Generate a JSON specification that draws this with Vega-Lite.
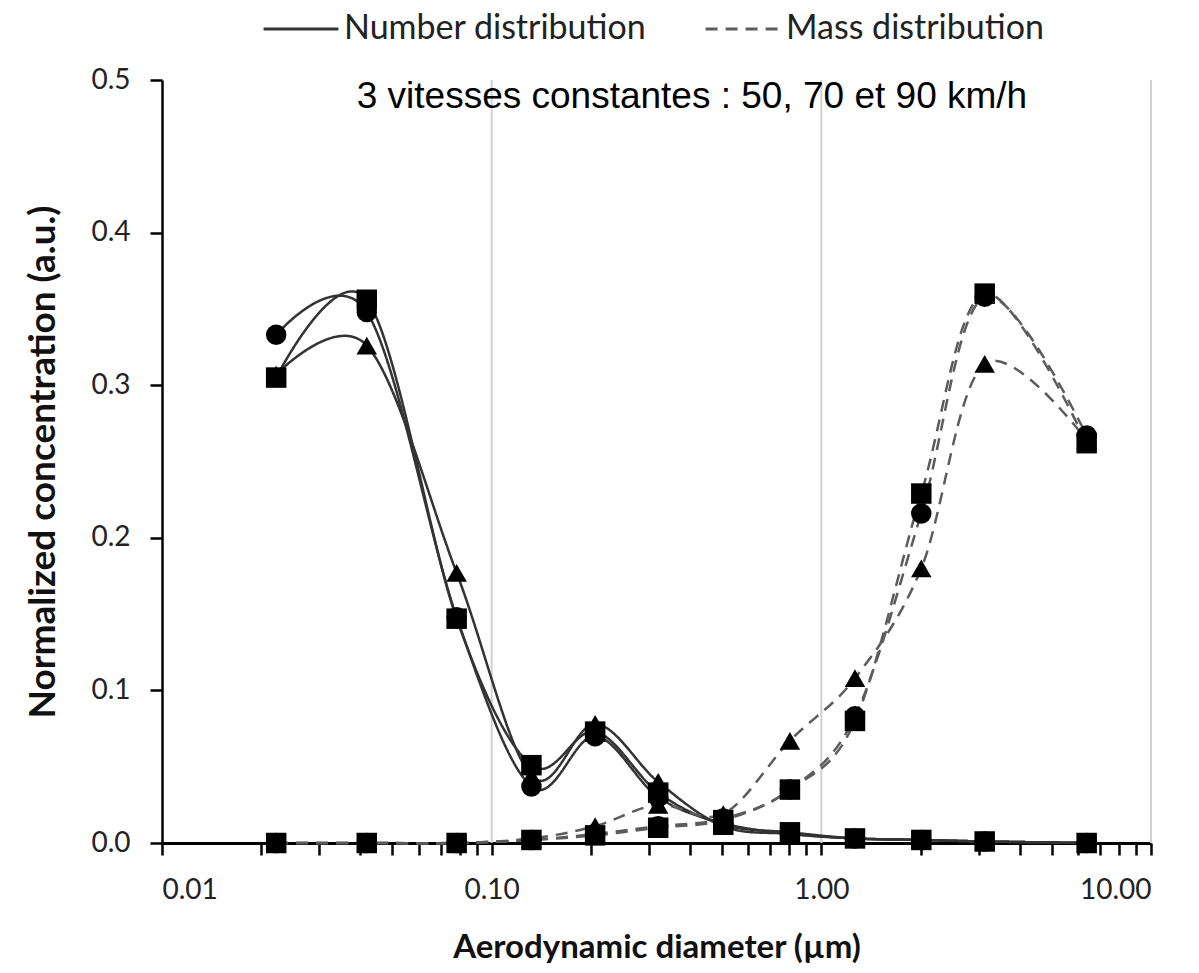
{
  "$schema": "https://vega.github.io/schema/vega-lite/v6.json",
  "width": 989,
  "height": 763,
  "autosize": "none",
  "padding": {"left": 162, "top": 80, "right": 48, "bottom": 130},
  "background": "white",
  "config": {
    "view": {"stroke": null},
    "font": "Lato"
  },
  "datasets": {
    "pts": [
      {"d": 0.0222, "v": 0.333, "dist": "Number distribution", "speed": "50"},
      {"d": 0.0418, "v": 0.348, "dist": "Number distribution", "speed": "50"},
      {"d": 0.0783, "v": 0.148, "dist": "Number distribution", "speed": "50"},
      {"d": 0.132, "v": 0.037, "dist": "Number distribution", "speed": "50"},
      {"d": 0.206, "v": 0.070, "dist": "Number distribution", "speed": "50"},
      {"d": 0.320, "v": 0.030, "dist": "Number distribution", "speed": "50"},
      {"d": 0.504, "v": 0.013, "dist": "Number distribution", "speed": "50"},
      {"d": 0.803, "v": 0.006, "dist": "Number distribution", "speed": "50"},
      {"d": 1.265, "v": 0.003, "dist": "Number distribution", "speed": "50"},
      {"d": 2.01, "v": 0.002, "dist": "Number distribution", "speed": "50"},
      {"d": 3.13, "v": 0.001, "dist": "Number distribution", "speed": "50"},
      {"d": 6.38, "v": 0.000, "dist": "Number distribution", "speed": "50"},

      {"d": 0.0222, "v": 0.307, "dist": "Number distribution", "speed": "70"},
      {"d": 0.0418, "v": 0.326, "dist": "Number distribution", "speed": "70"},
      {"d": 0.0783, "v": 0.177, "dist": "Number distribution", "speed": "70"},
      {"d": 0.132, "v": 0.044, "dist": "Number distribution", "speed": "70"},
      {"d": 0.206, "v": 0.078, "dist": "Number distribution", "speed": "70"},
      {"d": 0.320, "v": 0.040, "dist": "Number distribution", "speed": "70"},
      {"d": 0.504, "v": 0.011, "dist": "Number distribution", "speed": "70"},
      {"d": 0.803, "v": 0.006, "dist": "Number distribution", "speed": "70"},
      {"d": 1.265, "v": 0.003, "dist": "Number distribution", "speed": "70"},
      {"d": 2.01, "v": 0.002, "dist": "Number distribution", "speed": "70"},
      {"d": 3.13, "v": 0.001, "dist": "Number distribution", "speed": "70"},
      {"d": 6.38, "v": 0.000, "dist": "Number distribution", "speed": "70"},

      {"d": 0.0222, "v": 0.305, "dist": "Number distribution", "speed": "90"},
      {"d": 0.0418, "v": 0.356, "dist": "Number distribution", "speed": "90"},
      {"d": 0.0783, "v": 0.147, "dist": "Number distribution", "speed": "90"},
      {"d": 0.132, "v": 0.051, "dist": "Number distribution", "speed": "90"},
      {"d": 0.206, "v": 0.073, "dist": "Number distribution", "speed": "90"},
      {"d": 0.320, "v": 0.033, "dist": "Number distribution", "speed": "90"},
      {"d": 0.504, "v": 0.012, "dist": "Number distribution", "speed": "90"},
      {"d": 0.803, "v": 0.007, "dist": "Number distribution", "speed": "90"},
      {"d": 1.265, "v": 0.003, "dist": "Number distribution", "speed": "90"},
      {"d": 2.01, "v": 0.002, "dist": "Number distribution", "speed": "90"},
      {"d": 3.13, "v": 0.001, "dist": "Number distribution", "speed": "90"},
      {"d": 6.38, "v": 0.000, "dist": "Number distribution", "speed": "90"},

      {"d": 0.0222, "v": 0.000, "dist": "Mass distribution", "speed": "50"},
      {"d": 0.0418, "v": 0.000, "dist": "Mass distribution", "speed": "50"},
      {"d": 0.0783, "v": 0.000, "dist": "Mass distribution", "speed": "50"},
      {"d": 0.132, "v": 0.002, "dist": "Mass distribution", "speed": "50"},
      {"d": 0.206, "v": 0.006, "dist": "Mass distribution", "speed": "50"},
      {"d": 0.320, "v": 0.011, "dist": "Mass distribution", "speed": "50"},
      {"d": 0.504, "v": 0.016, "dist": "Mass distribution", "speed": "50"},
      {"d": 0.803, "v": 0.035, "dist": "Mass distribution", "speed": "50"},
      {"d": 1.265, "v": 0.083, "dist": "Mass distribution", "speed": "50"},
      {"d": 2.01, "v": 0.216, "dist": "Mass distribution", "speed": "50"},
      {"d": 3.13, "v": 0.358, "dist": "Mass distribution", "speed": "50"},
      {"d": 6.38, "v": 0.267, "dist": "Mass distribution", "speed": "50"},

      {"d": 0.0222, "v": 0.000, "dist": "Mass distribution", "speed": "70"},
      {"d": 0.0418, "v": 0.000, "dist": "Mass distribution", "speed": "70"},
      {"d": 0.0783, "v": 0.000, "dist": "Mass distribution", "speed": "70"},
      {"d": 0.132, "v": 0.003, "dist": "Mass distribution", "speed": "70"},
      {"d": 0.206, "v": 0.011, "dist": "Mass distribution", "speed": "70"},
      {"d": 0.320, "v": 0.025, "dist": "Mass distribution", "speed": "70"},
      {"d": 0.504, "v": 0.019, "dist": "Mass distribution", "speed": "70"},
      {"d": 0.803, "v": 0.067, "dist": "Mass distribution", "speed": "70"},
      {"d": 1.265, "v": 0.108, "dist": "Mass distribution", "speed": "70"},
      {"d": 2.01, "v": 0.180, "dist": "Mass distribution", "speed": "70"},
      {"d": 3.13, "v": 0.314, "dist": "Mass distribution", "speed": "70"},
      {"d": 6.38, "v": 0.264, "dist": "Mass distribution", "speed": "70"},

      {"d": 0.0222, "v": 0.000, "dist": "Mass distribution", "speed": "90"},
      {"d": 0.0418, "v": 0.000, "dist": "Mass distribution", "speed": "90"},
      {"d": 0.0783, "v": 0.000, "dist": "Mass distribution", "speed": "90"},
      {"d": 0.132, "v": 0.002, "dist": "Mass distribution", "speed": "90"},
      {"d": 0.206, "v": 0.005, "dist": "Mass distribution", "speed": "90"},
      {"d": 0.320, "v": 0.010, "dist": "Mass distribution", "speed": "90"},
      {"d": 0.504, "v": 0.015, "dist": "Mass distribution", "speed": "90"},
      {"d": 0.803, "v": 0.035, "dist": "Mass distribution", "speed": "90"},
      {"d": 1.265, "v": 0.080, "dist": "Mass distribution", "speed": "90"},
      {"d": 2.01, "v": 0.229, "dist": "Mass distribution", "speed": "90"},
      {"d": 3.13, "v": 0.360, "dist": "Mass distribution", "speed": "90"},
      {"d": 6.38, "v": 0.262, "dist": "Mass distribution", "speed": "90"}
    ],
    "grid": [{"g": 0.1}, {"g": 1}, {"g": 10}],
    "note": [{"d": 0.405, "v": 0.489, "label": "3 vitesses constantes : 50, 70 et 90 km/h"}]
  },
  "layer": [
    {
      "data": {"name": "grid"},
      "mark": {"type": "rule", "color": "#d0d0d0", "strokeWidth": 2},
      "encoding": {
        "x": {"field": "g", "type": "quantitative", "scale": {"type": "log", "domain": [0.01, 10]}}
      }
    },
    {
      "data": {"name": "pts"},
      "mark": {"type": "line", "interpolate": "cardinal", "tension": 0, "strokeWidth": 2.5},
      "encoding": {
        "x": {
          "field": "d", "type": "quantitative",
          "scale": {"type": "log", "domain": [0.01, 10]},
          "axis": {
            "title": "Aerodynamic diameter (µm)",
            "values": [0.01, 0.02, 0.03, 0.04, 0.05, 0.06, 0.07, 0.08, 0.09, 0.1, 0.2, 0.3, 0.4, 0.5, 0.6, 0.7, 0.8, 0.9, 1, 2, 3, 4, 5, 6, 7, 8, 9, 10],
            "labelExpr": "abs(log(datum.value)/LN10 - round(log(datum.value)/LN10)) < 0.000001 ? format(datum.value, '.2f') : ''",
            "labelOverlap": false,
            "grid": false,
            "domainColor": "#000000", "domainWidth": 3,
            "tickColor": "#000000", "tickWidth": 2.5, "tickSize": 12,
            "labelFontSize": 28, "labelColor": "#222222", "labelPadding": 21,
            "labelFont": "Lato",
            "titleFontSize": 33, "titleFontWeight": "bold", "titleColor": "#111111",
            "titleFont": "Lato", "titlePadding": 27
          }
        },
        "y": {
          "field": "v", "type": "quantitative",
          "scale": {"domain": [0, 0.5]},
          "axis": {
            "title": "Normalized concentration (a.u.)",
            "values": [0, 0.1, 0.2, 0.3, 0.4, 0.5],
            "format": ".1f",
            "grid": false,
            "domainColor": "#000000", "domainWidth": 2.5,
            "tickColor": "#000000", "tickWidth": 2.5, "tickSize": 12,
            "labelFontSize": 28, "labelColor": "#222222", "labelPadding": 20,
            "labelFont": "Lato",
            "titleFontSize": 37, "titleFontWeight": "bold", "titleColor": "#111111",
            "titleFont": "Lato", "titlePadding": 28
          }
        },
        "color": {
          "field": "dist", "type": "nominal",
          "scale": {"domain": ["Number distribution", "Mass distribution"], "range": ["#333333", "#5c5c5c"]},
          "legend": {
            "title": null,
            "orient": "none", "legendX": 100, "legendY": -90,
            "direction": "horizontal",
            "symbolType": "stroke", "symbolSize": 5600, "symbolStrokeWidth": 3,
            "labelFontSize": 34, "labelColor": "#222222", "labelFont": "Lato",
            "labelLimit": 0,
            "labelOffset": 4, "columnPadding": 52
          }
        },
        "strokeDash": {
          "field": "dist", "type": "nominal",
          "scale": {"domain": ["Number distribution", "Mass distribution"], "range": [[1, 0], [12, 8]]}
        },
        "detail": {"field": "speed", "type": "nominal"}
      }
    },
    {
      "data": {"name": "pts"},
      "mark": {"type": "point", "filled": true, "color": "#000000", "opacity": 1, "size": 420},
      "encoding": {
        "x": {"field": "d", "type": "quantitative", "scale": {"type": "log", "domain": [0.01, 10]}},
        "y": {"field": "v", "type": "quantitative"},
        "shape": {
          "field": "speed", "type": "nominal",
          "scale": {"domain": ["50", "70", "90"], "range": ["circle", "triangle-up", "square"]},
          "legend": null
        }
      }
    },
    {
      "data": {"name": "note"},
      "mark": {"type": "text", "font": "Liberation Sans", "fontSize": 37, "color": "#000000", "align": "center", "baseline": "middle"},
      "encoding": {
        "x": {"field": "d", "type": "quantitative", "scale": {"type": "log", "domain": [0.01, 10]}},
        "y": {"field": "v", "type": "quantitative"},
        "text": {"field": "label"}
      }
    }
  ]
}
